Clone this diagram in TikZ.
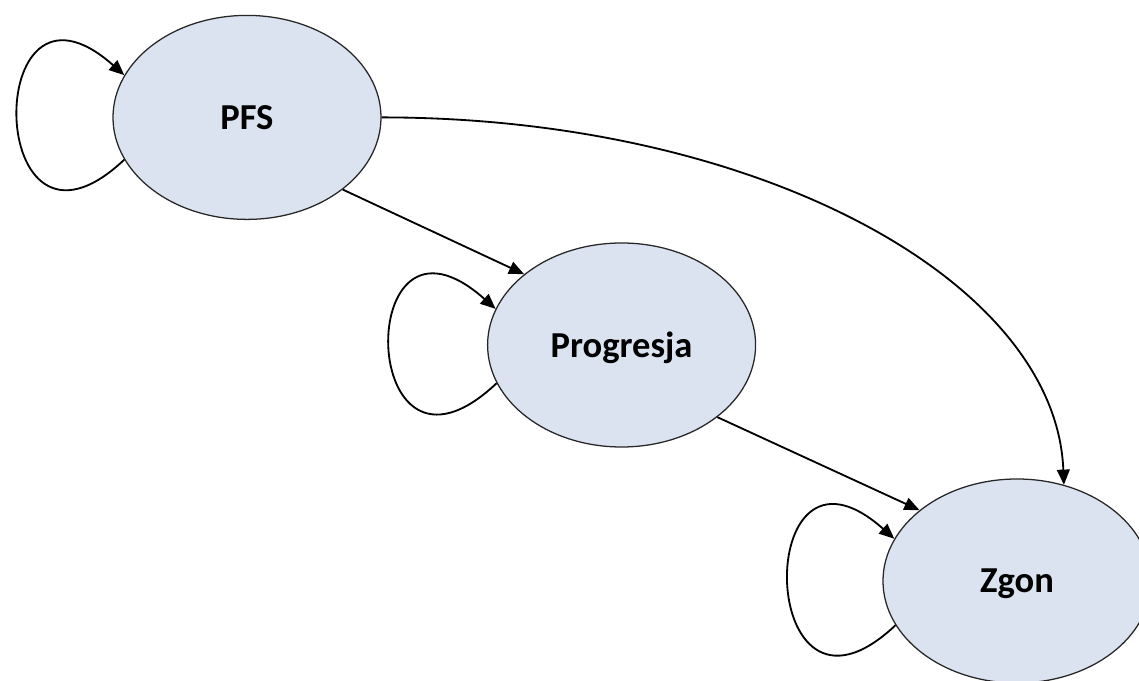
\documentclass[tikz,border=0pt]{standalone}
\usepackage{xcolor}
\usepackage{fontspec}
\setmainfont{Carlito}
\usetikzlibrary{shapes, arrows.meta}

\definecolor{statefill}{RGB}{219,227,240}

\begin{document}
\begin{tikzpicture}
\tikzstyle{state} = [ellipse, minimum width=6.7cm, minimum height=5.1cm, inner sep=0pt, text centered, text depth=0pt, draw=black!85, line width=0.9pt, fill=statefill, font=\fontsize{26pt}{30pt}\selectfont\bfseries]
\tikzstyle{arrow} = [line width=1.3pt,->,>={Triangle[length=3.8mm,width=3.2mm]}]

\useasboundingbox (0,0) rectangle (28.475,17.025);

\node (pfs) [state] at (6.175,14.09) {PFS};
\node (prog) [state] at (15.54,8.40) {Progresja};
\node (zgon) [state] at (25.425,2.50) {Zgon};

\draw [arrow] (pfs.199) .. controls +(-3.5,-3.3) and +(-3.6,3.2) .. (pfs.161);
\draw [arrow] (prog.197) .. controls +(-3.5,-3.3) and +(-3.6,3.2) .. (prog.164);
\draw [arrow] (zgon.200) .. controls +(-3.5,-3.3) and +(-3.6,3.2) .. (zgon.161);

\draw [arrow] (pfs.-37) -- (prog.144);
\draw [arrow] (prog.-37) -- (zgon.144);
\draw [arrow] (pfs.0) .. controls +(9.4,0) and +(-0.2,5.1) .. (zgon.64);

\end{tikzpicture}
\end{document}
